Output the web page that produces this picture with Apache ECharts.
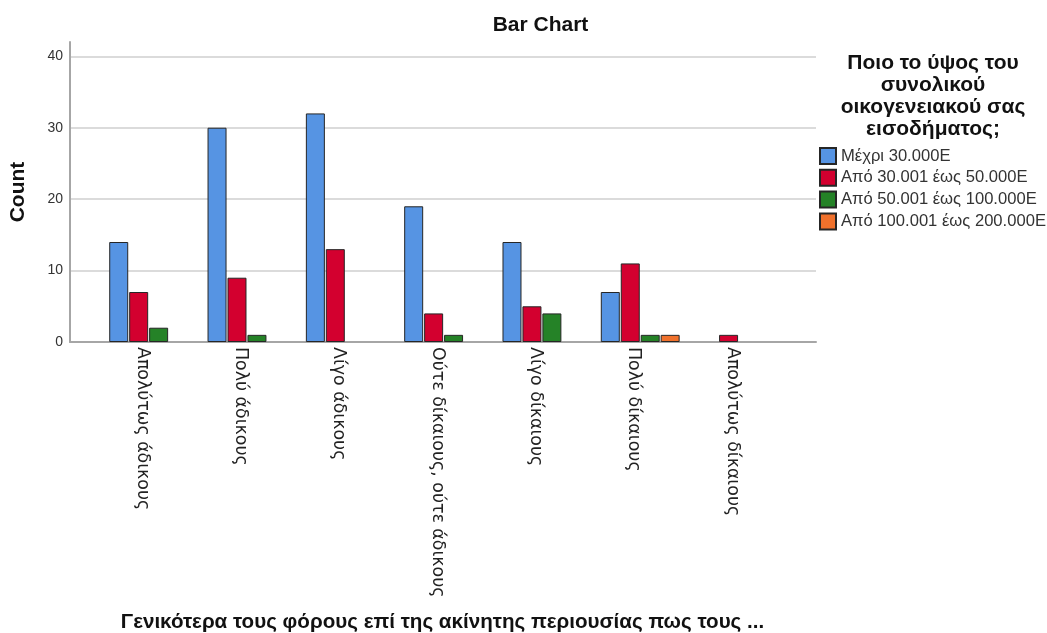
<!DOCTYPE html>
<html>
<head>
<meta charset="utf-8">
<script src="https://cdn.jsdelivr.net/npm/echarts@6/dist/echarts.min.js"></script>
<style>
  html, body { margin: 0; padding: 0; background: #fff; }
  #chart { width: 1047px; height: 633px; }
</style>
</head>
<body>
<div id="chart"></div>
<script>
// Answer categories (x axis)
const categories = [
  'Απολύτως άδικους',
  'Πολύ άδικους',
  'Λίγο άδικους',
  'Ούτε δίκαιους, ούτε άδικους',
  'Λίγο δίκαιους',
  'Πολύ δίκαιους',
  'Απολύτως δίκαιους'
];

// Income groups (legend)
const incomeGroups = [
  'Μέχρι 30.000Ε',
  'Από 30.001 έως 50.000Ε',
  'Από 50.001 έως 100.000Ε',
  'Από 100.001 έως 200.000Ε'
];

// Counts per income group; null = no respondents in that cell
const upTo30k       = [14, 30, 32, 19, 14, 7, null];
const from30to50k   = [7, 9, 13, 4, 5, 11, 1];
const from50to100k  = [2, 1, null, 1, 4, 1, null];
const from100to200k = [null, null, null, null, null, 1, null];

const yTicks = [0, 10, 20, 30, 40];

const seriesValues = [upTo30k, from30to50k, from50to100k, from100to200k];
const colors = ['#5694e3', '#d3002f', '#258227', '#f0712c'];

const chart = echarts.init(document.getElementById('chart'), null, { renderer: 'canvas' });

const sans = '"Liberation Sans", Arial, sans-serif';

chart.setOption({
  animation: false,
  backgroundColor: '#ffffff',
  title: [
    {
      text: 'Bar Chart',
      left: 540.5, top: 14, textAlign: 'center', padding: 0,
      textStyle: { fontFamily: sans, fontSize: 21, fontWeight: 'bold', color: '#111', lineHeight: 22 }
    },
    {
      text: 'Ποιο το ύψος του\nσυνολικού\nοικογενειακού σας\nεισοδήματος;',
      left: 933, top: 52.5, textAlign: 'center', padding: 0,
      textStyle: { fontFamily: sans, fontSize: 21, fontWeight: 'bold', color: '#111', lineHeight: 21.9 }
    },
    {
      text: 'Γενικότερα τους φόρους επί της ακίνητης περιουσίας πως τους ...',
      left: 442.5, top: 611, textAlign: 'center', padding: 0,
      textStyle: { fontFamily: sans, fontSize: 20.6, fontWeight: 'bold', color: '#111', lineHeight: 22 }
    }
  ],
  legend: {
    orient: 'vertical',
    left: 819, top: 147, padding: 0,
    itemWidth: 16, itemHeight: 16, itemGap: 3.8,
    icon: 'rect',
    data: incomeGroups,
    textStyle: { fontFamily: sans, fontSize: 16.6, color: '#333', lineHeight: 17 }
  },
  grid: [
    // frame: value axis, gridlines and baseline
    { left: 70, right: 231, top: 42, bottom: 291 },
    // bars, inset so the groups sit away from the frame edges
    { left: 99.5, right: 259.3, top: 42, bottom: 291 }
  ],
  xAxis: [
    {
      gridIndex: 0, type: 'value', min: 0, max: 1,
      axisLine: { show: true, onZero: false, lineStyle: { color: '#a6a6a6', width: 2 } },
      axisTick: { show: false }, axisLabel: { show: false }, splitLine: { show: false }
    },
    {
      gridIndex: 1, type: 'category', data: categories,
      axisLine: { show: false }, axisTick: { show: false },
      axisLabel: {
        rotate: -90, margin: 5, interval: 0,
        fontFamily: '"DejaVu Sans", sans-serif', fontSize: 17.4, color: '#222',
        verticalAlign: 'top', lineHeight: 13
      }
    }
  ],
  yAxis: [
    {
      gridIndex: 0, type: 'value', min: yTicks[0], max: 42, interval: 10,
      name: 'Count', nameLocation: 'middle', nameRotate: 90, nameGap: 41,
      nameTextStyle: { fontFamily: sans, fontSize: 21, fontWeight: 'bold', color: '#111' },
      axisLine: { show: true, lineStyle: { color: '#a6a6a6', width: 2 } },
      axisTick: { show: false },
      axisLabel: {
        fontFamily: sans, fontSize: 14, color: '#333', margin: 7,
        showMaxLabel: false,
        formatter: v => (yTicks.indexOf(v) >= 0 ? String(v) : '')
      },
      splitLine: { show: true, showMaxLine: false, lineStyle: { color: '#cfcfcf', width: 1.5 } }
    },
    { gridIndex: 1, type: 'value', min: 0, max: 42, show: false, splitLine: { show: false } }
  ],
  series: incomeGroups.map((name, i) => ({
    name: name,
    type: 'bar',
    xAxisIndex: 1, yAxisIndex: 1,
    data: seriesValues[i],
    barWidth: 19,
    barGap: '5%',
    itemStyle: { color: colors[i], borderColor: '#262626', borderWidth: 1 }
  }))
});
</script>
</body>
</html>
